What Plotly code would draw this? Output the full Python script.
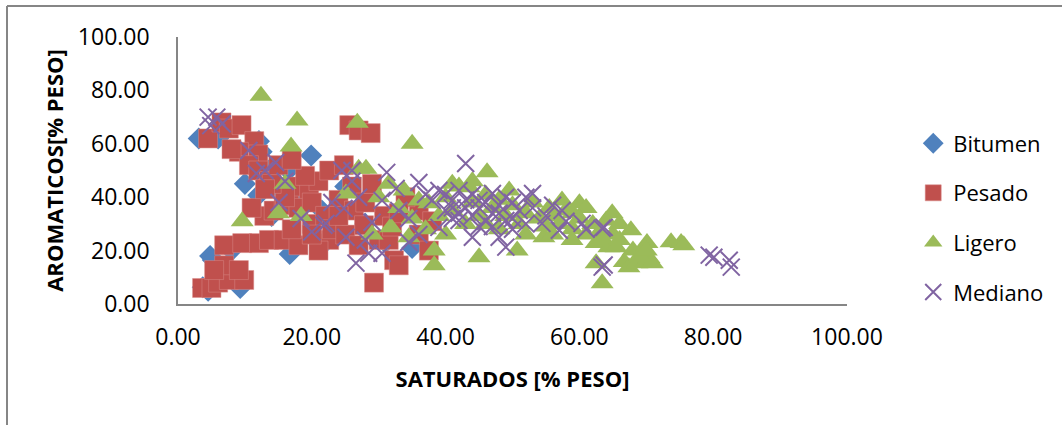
import plotly.graph_objects as go

# Bitumen
bit_x = [3.1, 4.8, 5.2, 3.7, 4.5, 9.3, 12.1, 12.0, 12.5, 16.7, 16.5, 19.9, 21.5, 14.0, 25.0,
         28.0, 31.0, 10.0, 22.0, 13.5, 18.0, 6.0, 8.0, 15.0, 35.0]
bit_y = [62.0, 18.0, 16.5, 6.3, 5.0, 6.0, 61.0, 40.7, 57.0, 18.7, 50.0, 55.6, 35.0, 33.0, 44.0,
         30.0, 23.0, 45.0, 23.0, 50.0, 37.0, 62.0, 20.0, 42.0, 21.0]

# Pesado
pes_x = [4.5, 6.5, 7.6, 9.5, 11.4, 12.0, 9.1, 10.6, 12.0, 13.6, 3.6, 5.0, 6.0, 7.6, 9.9,
         6.9, 5.4, 9.1, 6.9, 9.6, 12.1, 13.6, 15.8, 18.0, 22.6, 12.9, 14.3, 15.8, 16.6, 18.0,
         19.6, 21.0, 22.6, 24.8, 25.6, 27.0, 28.8, 24.0, 26.3, 27.8, 30.0, 29.3, 32.3, 33.0, 31.5,
         30.8, 36.0, 37.5, 36.0, 20.0, 18.0, 16.0, 14.0, 20.0, 22.0, 23.0, 25.0, 27.0, 21.0, 17.0,
         19.0, 15.0, 26.0, 28.0, 32.0, 34.0, 11.0, 8.0, 13.0, 17.0, 24.0, 29.0, 33.0, 38.0, 20.0]
pes_y = [62.0, 68.0, 65.7, 67.0, 61.0, 56.0, 57.0, 52.0, 50.0, 46.0, 6.0, 6.0, 8.0, 9.0, 9.0,
         14.5, 12.7, 12.7, 22.0, 22.8, 22.8, 24.0, 24.0, 22.0, 24.0, 33.0, 35.0, 37.0, 42.5, 44.0,
         42.5, 46.0, 50.0, 52.0, 67.0, 65.0, 64.0, 39.0, 35.0, 29.5, 24.0, 8.0, 16.4, 14.5, 24.0,
         33.0, 26.0, 20.0, 35.0, 30.0, 36.0, 40.0, 45.0, 38.0, 33.0, 28.0, 26.0, 22.0, 20.0, 28.0,
         48.0, 52.0, 44.0, 38.0, 29.0, 40.0, 36.0, 58.0, 43.0, 54.0, 33.0, 45.0, 34.0, 31.0, 26.0]

# Ligero
lig_x = [12.4, 17.8, 16.9, 16.0, 18.4, 9.6, 26.8, 35.0, 28.1, 27.0, 25.1, 31.5, 33.8, 31.8, 38.3,
         38.3, 36.0, 34.5, 37.5, 46.2, 45.0, 50.7, 49.5, 57.4, 60.0, 61.0, 55.5, 54.7, 58.9, 62.5,
         64.0, 63.4, 62.5, 43.5, 64.9, 67.7, 70.1, 73.7, 75.2, 75.6, 66.7, 64.4, 63.4, 65.5, 67.4,
         68.6, 70.0, 70.4, 70.9, 40.0, 41.0, 42.0, 44.0, 45.0, 46.0, 47.0, 48.0, 48.0, 49.0, 50.0,
         51.0, 52.0, 53.0, 54.0, 55.0, 56.0, 57.0, 58.0, 59.0, 60.0, 61.0, 62.0, 63.0, 65.0, 66.0,
         68.0, 69.0, 70.0, 39.0, 37.0, 35.0, 33.0, 30.0, 40.0, 43.0, 41.0, 44.0, 46.0, 52.0, 56.0,
         59.0, 66.0, 15.0, 29.0]
lig_y = [78.0, 68.7, 59.0, 45.0, 33.0, 31.0, 67.9, 60.0, 50.7, 50.7, 41.4, 45.0, 42.5, 28.7, 20.0,
         14.5, 38.8, 25.0, 37.7, 49.3, 17.5, 20.0, 42.5, 38.8, 37.7, 36.0, 36.0, 25.0, 24.0, 22.8,
         31.3, 7.8, 15.3, 43.7, 34.0, 27.6, 22.8, 23.1, 22.8, 22.0, 15.7, 21.3, 24.0, 21.3, 13.8,
         15.3, 15.7, 17.2, 15.3, 40.0, 35.0, 44.0, 38.0, 33.0, 30.0, 36.0, 39.0, 28.0, 33.0, 37.0,
         30.0, 34.0, 38.0, 32.0, 29.0, 33.0, 30.0, 35.0, 28.0, 32.0, 26.0, 30.0, 27.0, 26.0, 24.0,
         20.0, 18.0, 20.0, 33.0, 28.0, 32.0, 36.0, 40.0, 26.0, 30.0, 45.0, 46.0, 41.0, 26.0, 26.0,
         34.0, 30.0, 34.0, 26.0]

# Mediano
med_x = [4.5, 5.8, 6.6, 4.9, 10.6, 14.6, 11.7, 15.1, 18.4, 21.8, 24.5, 26.0, 31.2, 36.0, 32.6,
         30.5, 27.0, 24.8, 29.0, 34.5, 34.5, 30.5, 26.6, 28.5, 25.1, 22.1, 38.0, 39.0, 41.0, 42.0,
         43.0, 40.0, 42.0, 39.0, 43.0, 45.0, 47.0, 48.0, 49.0, 44.0, 49.0, 52.0, 53.0, 51.0, 54.4,
         57.4, 57.0, 60.4, 63.4, 63.4, 63.7, 63.7, 79.4, 80.1, 82.4, 82.7, 40.0, 41.0, 42.0, 43.0,
         44.0, 45.0, 46.0, 46.0, 47.0, 48.0, 44.0, 41.0, 45.0, 50.0, 50.0, 52.0, 55.0, 56.0, 47.0,
         48.0, 36.0, 37.0, 50.0, 58.0, 53.0, 26.0, 20.0, 33.0, 28.0, 16.0, 13.0, 23.0, 61.0, 49.0]
med_y = [70.0, 70.0, 67.5, 66.8, 57.5, 53.0, 48.9, 38.0, 32.0, 29.5, 50.0, 50.0, 49.3, 45.5, 43.3,
         38.8, 40.0, 35.8, 30.6, 32.0, 23.1, 19.0, 15.3, 19.0, 25.0, 30.2, 38.8, 42.5, 38.8, 42.5,
         52.6, 35.0, 31.3, 28.7, 36.0, 38.8, 41.4, 34.0, 31.3, 25.0, 21.3, 40.0, 41.4, 35.0, 30.2,
         35.0, 27.6, 30.2, 28.4, 13.8, 28.7, 14.6, 18.3, 17.5, 16.4, 13.8, 41.0, 36.0, 34.0, 39.0,
         33.0, 36.0, 31.0, 38.0, 34.0, 37.0, 41.0, 32.0, 29.0, 38.0, 32.0, 30.0, 33.0, 37.0, 29.0,
         25.0, 26.0, 41.0, 28.0, 31.0, 36.0, 46.0, 27.0, 35.0, 24.0, 46.0, 50.0, 38.0, 28.0, 40.0]

fig = go.Figure()
fig.add_trace(go.Scatter(x=bit_x, y=bit_y, mode="markers", name="Bitumen", legendgroup="a",
                         marker=dict(symbol="diamond", size=17, color="#4F81BD")))
fig.add_trace(go.Scatter(x=pes_x, y=pes_y, mode="markers", name="Pesado", legendgroup="b",
                         marker=dict(symbol="square", size=19, color="#C0504D",
                                     line=dict(color="#D88A88", width=0.5))))
fig.add_trace(go.Scatter(x=lig_x, y=lig_y, mode="markers", name="Ligero", legendgroup="c",
                         marker=dict(symbol="triangle-up", size=20, color="#9BBB59")))
fig.add_trace(go.Scatter(x=med_x, y=med_y, mode="markers", name="Mediano", legendgroup="d",
                         marker=dict(symbol="x-thin", size=17, color="#8064A2",
                                     line=dict(color="#8064A2", width=2))))

axis_font = dict(family="Open Sans", size=23, color="#000000")
title_font = dict(family="Open Sans", size=22, color="#000000", weight="bold")

fig.update_layout(
    width=1062, height=425,
    margin=dict(l=178, r=215, t=37, b=121),
    paper_bgcolor="white", plot_bgcolor="white",
    showlegend=True,
    legend=dict(x=1.099, y=0.68, xanchor="left", yanchor="top",
                font=dict(family="Open Sans", size=22, color="#000000"),
                tracegroupgap=18, itemwidth=30),
    xaxis=dict(range=[0, 100], tickvals=[0, 20, 40, 60, 80, 100], tickformat=".2f",
               showgrid=False, zeroline=False, showline=True, linecolor="#868686", linewidth=1.5,
               tickfont=axis_font, ticklabelstandoff=12,
               title=dict(text="SATURADOS [% PESO]", font=title_font, standoff=20)),
    yaxis=dict(range=[0, 100], tickvals=[0, 20, 40, 60, 80, 100], tickformat=".2f",
               showgrid=False, zeroline=False, showline=True, linecolor="#868686", linewidth=1.5,
               tickfont=axis_font, ticklabelstandoff=22,
               title=dict(text="AROMATICOS[% PESO]", font=title_font, standoff=8)),
    shapes=[
        dict(type="line", xref="paper", yref="paper",
             x0=(7 - 178) / 669, x1=(1070 - 178) / 669, y0=(304 - 6) / 267, y1=(304 - 6) / 267,
             line=dict(color="#868686", width=2)),
        dict(type="line", xref="paper", yref="paper",
             x0=(7 - 178) / 669, x1=(7 - 178) / 669, y0=(304 - 6) / 267, y1=(304 - 440) / 267,
             line=dict(color="#868686", width=2)),
    ],
)

fig.write_html("out.html", config={"displayModeBar": False},
               post_script="document.body.style.margin='0';")
